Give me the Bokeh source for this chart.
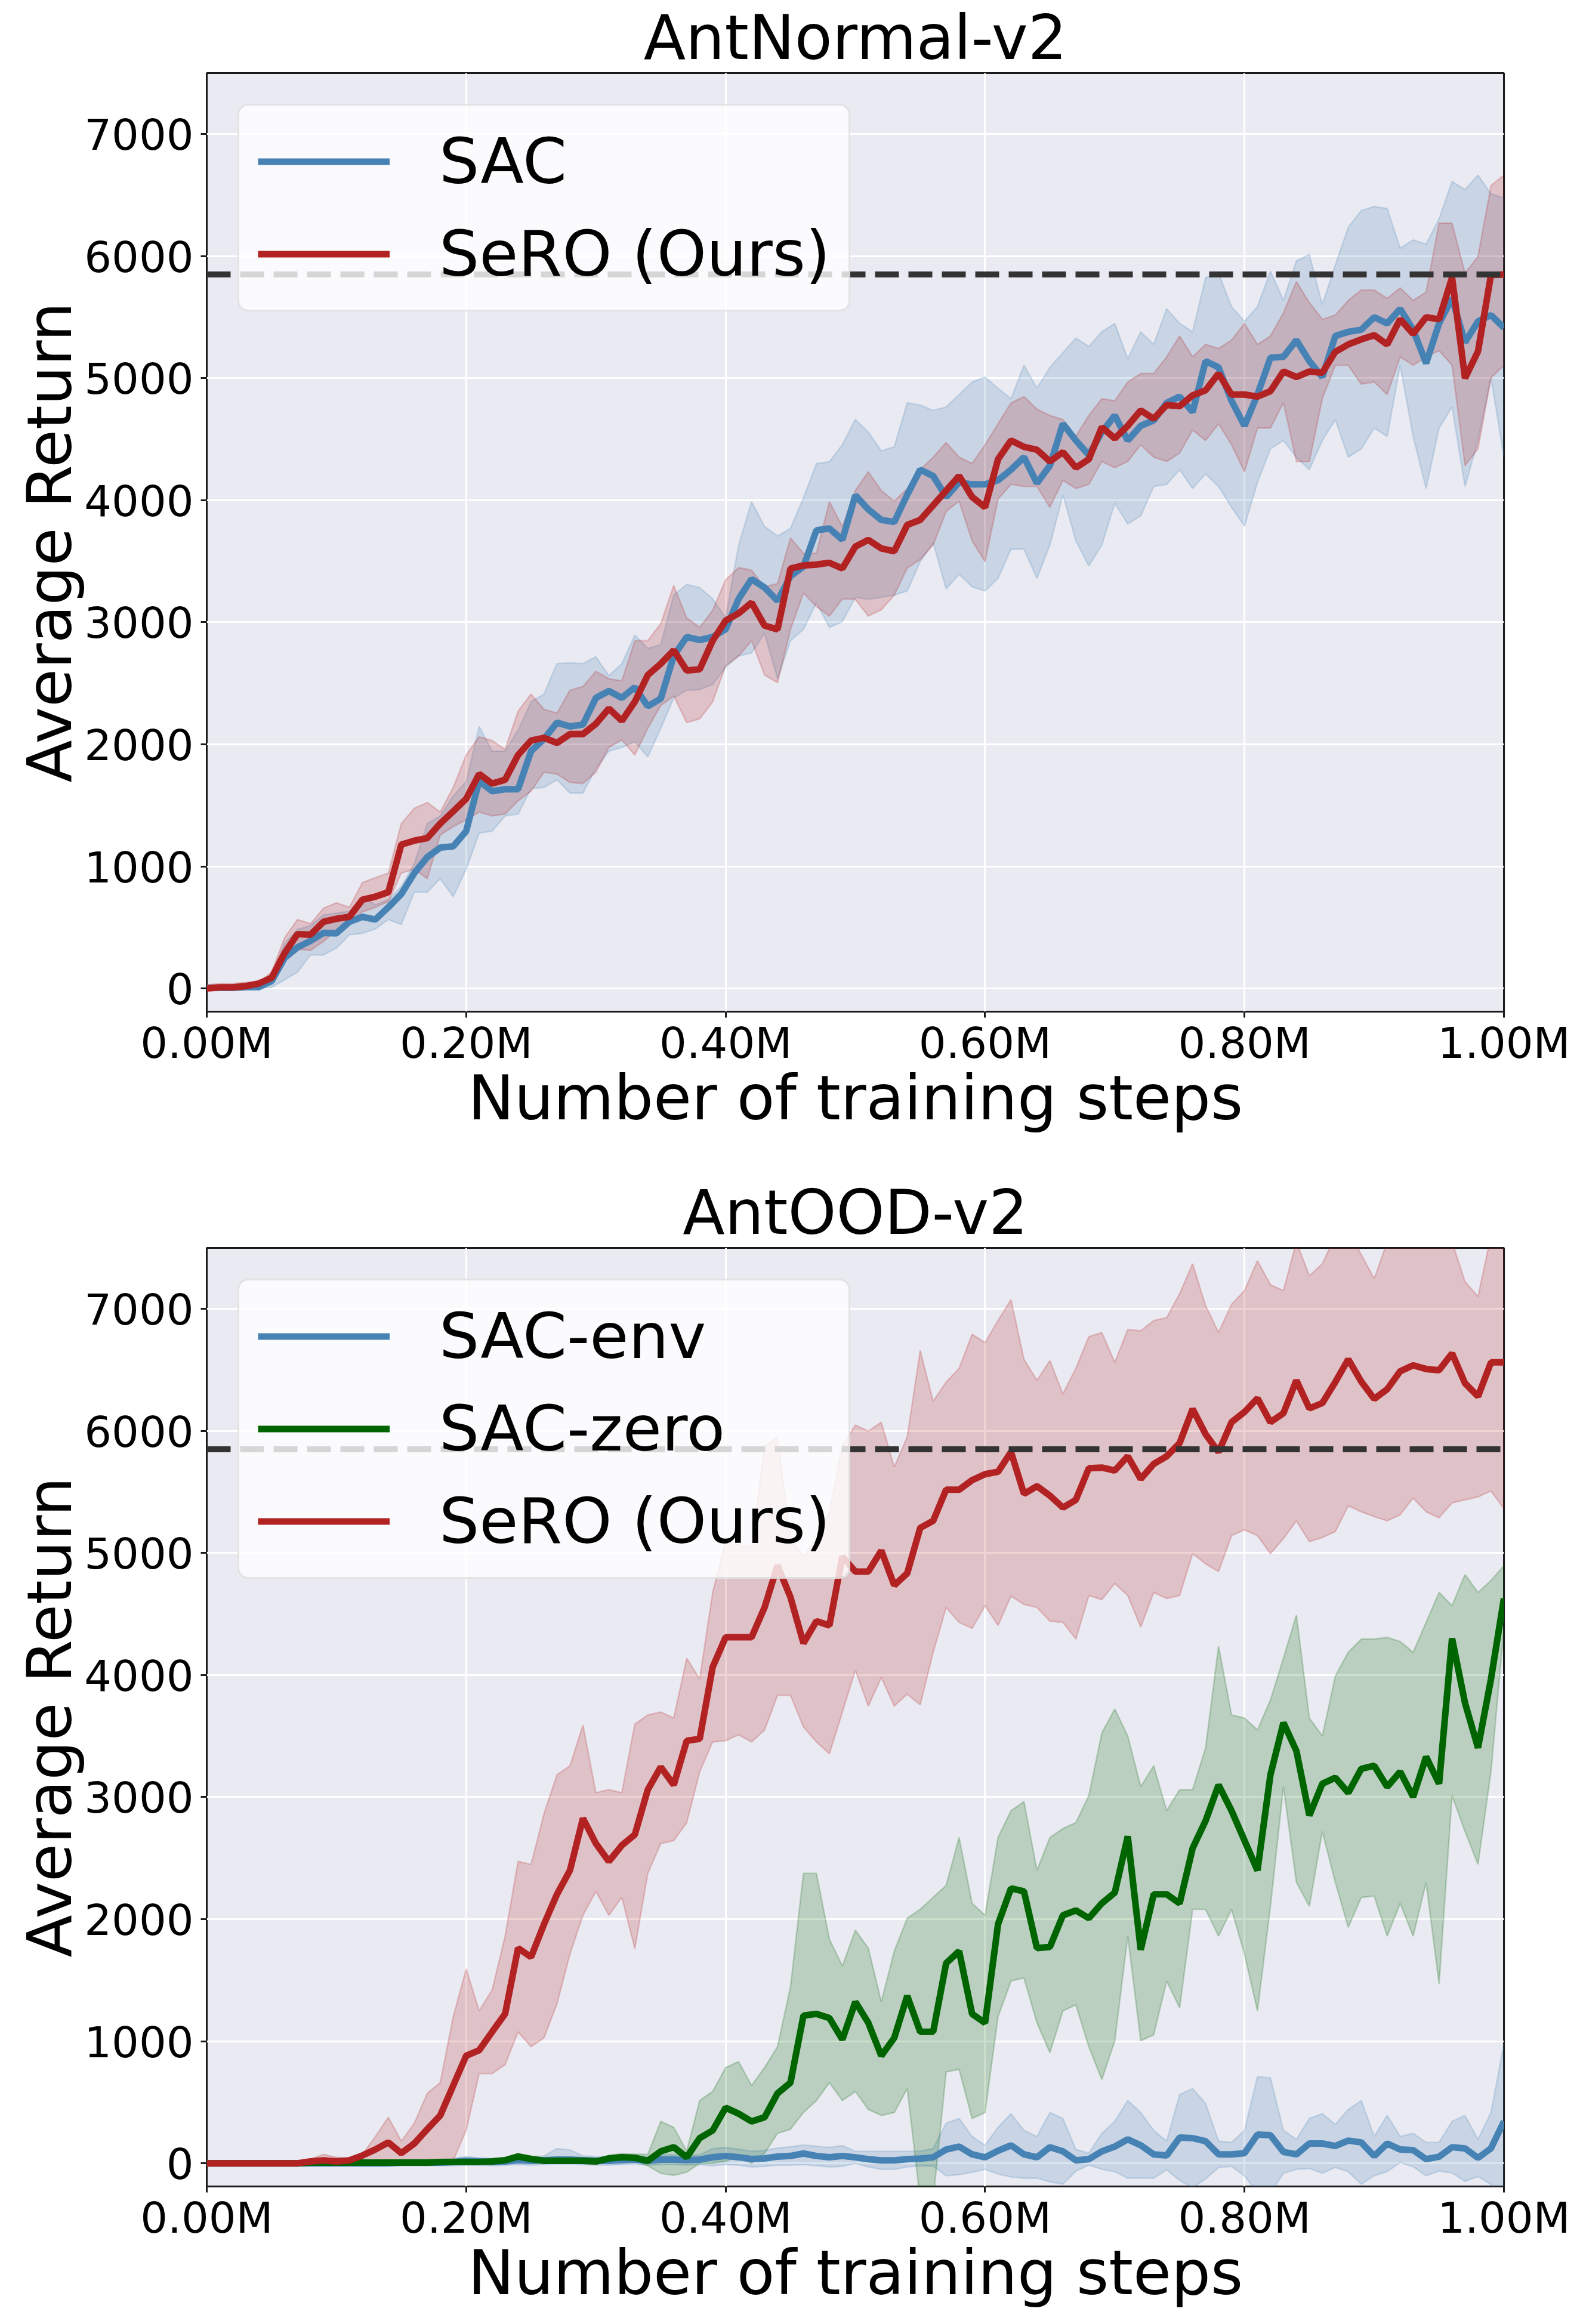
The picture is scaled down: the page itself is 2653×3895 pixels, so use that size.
from bokeh.plotting import figure
from bokeh.models import Range1d, FixedTicker, Span, Legend
from bokeh.layouts import column
from bokeh.embed import file_html
from bokeh.resources import INLINE

# ---------------- data ----------------
steps = [i * 10000 for i in range(101)]
x_ticks = [0, 200000, 400000, 600000, 800000, 1000000]
x_tick_labels = ["0.00M", "0.20M", "0.40M", "0.60M", "0.80M", "1.00M"]
y_ticks = [0, 1000, 2000, 3000, 4000, 5000, 6000, 7000]
reference_return = 5850

# AntNormal-v2
normal_sac = [5, 5, 5, 10, 10, 60, 250, 337, 390, 455, 452, 546, 587, 565, 665, 774, 945, 1076, 1154, 1164,
              1289, 1700, 1616, 1632, 1632, 1944, 2044, 2178, 2147, 2162, 2381, 2437, 2381, 2468, 2312, 2375,
              2724, 2880, 2855, 2880, 2942, 3192, 3354, 3285, 3176, 3379, 3457, 3754, 3769, 3676, 4040,
              3925, 3839, 3822, 4045, 4250, 4199, 4027, 4147, 4130, 4130, 4164, 4250, 4353, 4140, 4284, 4627,
              4490, 4370, 4558, 4695, 4490, 4610, 4654, 4798, 4849, 4723, 5140, 5089, 4815, 4610, 4866, 5168,
              5175, 5312, 5140, 5010, 5346, 5380, 5397, 5500, 5449, 5568, 5397, 5123, 5449, 5654, 5295, 5466,
              5517, 5414]
normal_sac_lo = [-10, -10, -10, -10, 0, 9, 72, 134, 275, 275, 331, 440, 452, 487, 565, 524, 789, 789, 899, 752,
                 977, 1273, 1289, 1413, 1429, 1638, 1647, 1710, 1601, 1601, 1803, 1944, 1975, 2022, 1897, 2131,
                 2381, 2443, 2449, 2490, 2630, 2724, 2749, 2911, 2537, 2849, 2942, 3161, 2958, 3005, 3205,
                 3188, 3205, 3222, 3257, 3497, 3651, 3274, 3394, 3291, 3257, 3360, 3599, 3599, 3360, 3634, 4045,
                 3668, 3462, 3634, 3976, 3805, 3873, 4113, 4130, 4250, 4096, 4216, 4113, 3942, 3788, 4147, 4421,
                 4490, 4353, 4250, 4490, 4661, 4353, 4421, 4592, 4524, 5106, 4524, 4096, 4592, 4764, 4113, 4490,
                 5003, 4353]
normal_sac_hi = [25, 25, 25, 25, 25, 103, 368, 484, 515, 602, 618, 633, 752, 686, 727, 836, 1023, 1351, 1413, 1576,
                 1694, 2147, 1944, 1944, 2115, 2349, 2412, 2661, 2668, 2661, 2718, 2562, 2661, 2895, 2786, 2817,
                 3223, 3310, 3285, 3192, 3036, 3629, 3988, 3785, 3707, 3769, 4019, 4300, 4315, 4456, 4661,
                 4558, 4404, 4438, 4798, 4781, 4736, 4764, 4866, 4969, 5010, 4918, 4832, 5106, 4918, 5089, 5209,
                 5329, 5260, 5380, 5449, 5158, 5380, 5277, 5568, 5449, 5380, 5825, 5860, 5586, 5466, 5586, 5877,
                 5637, 5962, 6013, 5603, 5928, 6236, 6373, 6407, 6390, 6065, 6133, 6099, 6305, 6613, 6545, 6664,
                 6510, 6476]
normal_sero = [0, 9, 9, 19, 40, 87, 290, 446, 440, 546, 571, 587, 727, 752, 789, 1179, 1211, 1232, 1351, 1451,
               1554, 1757, 1679, 1710, 1913, 2031, 2053, 2012, 2084, 2084, 2168, 2293, 2193, 2349, 2568, 2661,
               2771, 2605, 2615, 2849, 3014, 3073, 3161, 2973, 2942, 3441, 3466, 3473, 3488, 3441, 3620,
               3675, 3606, 3582, 3798, 3839, 3959, 4079, 4199, 4027, 3942, 4336, 4490, 4438, 4414, 4318, 4394,
               4267, 4336, 4599, 4507, 4610, 4736, 4668, 4781, 4771, 4860, 4901, 5038, 4866, 4866, 4849, 4894,
               5055, 5010, 5055, 5045, 5216, 5277, 5318, 5353, 5277, 5483, 5363, 5500, 5483, 5825, 5000, 5220,
               5845, 5850]
normal_sero_lo = [-20, -15, -15, -10, 9, 34, 228, 321, 312, 384, 477, 534, 627, 665, 711, 945, 977, 899, 1257, 1326,
                  1382, 1445, 1413, 1429, 1538, 1616, 1772, 1757, 1688, 1679, 1772, 1975, 2037, 1913, 2131, 2318,
                  2396, 2178, 2209, 2349, 2646, 2724, 2849, 2568, 2505, 2942, 3239, 3129, 3051, 3192, 3188,
                  3051, 3103, 3222, 3445, 3514, 3634, 3908, 3993, 3668, 3497, 4010, 4130, 4113, 4113, 3942, 4164,
                  4096, 4130, 4318, 4267, 4318, 4455, 4353, 4318, 4387, 4575, 4490, 4627, 4455, 4233, 4592, 4592,
                  4798, 4318, 4318, 4832, 5106, 5106, 4952, 4969, 4866, 5175, 5106, 5175, 5226, 5106, 4284, 4421,
                  5003, 5106]
normal_sero_hi = [30, 40, 40, 50, 47, 134, 415, 565, 530, 658, 702, 665, 867, 908, 945, 1351, 1476, 1523, 1445, 1647,
                  1913, 2062, 2031, 1959, 2271, 2412, 2287, 2256, 2443, 2474, 2599, 2537, 2521, 2849, 2849, 2989,
                  3301, 3036, 2958, 3098, 3348, 3448, 3426, 3292, 3317, 3691, 3566, 3566, 3988, 3785, 4079,
                  4233, 4079, 3993, 4096, 4250, 4353, 4473, 4353, 4301, 4455, 4627, 4798, 4849, 4747, 4695, 4661,
                  4524, 4695, 4832, 4815, 4969, 5038, 5038, 5175, 5346, 5175, 5277, 5243, 5312, 5449, 5277, 5346,
                  5534, 5791, 5620, 5483, 5517, 5637, 5723, 5723, 5654, 5740, 5637, 5706, 6270, 6270, 5860, 5997,
                  6579, 6664]

# AntOOD-v2
ood_env = [0, 0, 0, 0, 0, 0, 0, 0, 0, 0, 0, 0, 0, 0, 0, 5, 5, 5, 5, 10,
           20, 15, 10, 15, 25, 20, 25, 30, 30, 25, 20, 20, 25, 30, 20, 30, 30, 25, 30, 50,
           60, 50, 35, 40, 55, 60, 80, 60, 50, 60, 49,
           34, 24, 24, 34, 39, 49, 113, 137, 73, 49, 103, 147, 73, 49, 132, 98, 24, 34, 98, 137,
           196, 147, 73, 64, 211, 206, 181, 73, 73, 83, 235, 230, 93, 73, 162, 162, 142, 186, 171, 59,
           162, 113, 108, 34, 54, 132, 122, 44, 122, 343]
ood_env_lo = [-20, -20, -20, -20, -20, -20, -20, -20, -20, -20, -20, -20, -20, -20, -20, -20, -20, -20, -20, -20,
              -15, -15, -20, -15, -10, -15, -10, -5, -5, -10, -15, -15, -10, -5, -15, -10, -10, -15, -10, -20,
              -10, -15, -30, -25, -15, -15, -10, -20, -30, -25, 0,
              -30, -50, -50, -30, -20, -24, -102, -93, -74, -49, -88, -112, -123, -122, -152, -171, -65, -15, -49, -69,
              -122, -122, -123, -53, -141, -200, -128, -35, -25, -103, -240, -240, -83, -50, -43, -82, -34, -69, -172, -102,
              -68, 6, -29, -103, -63, -79, -148, -108, -172, -293]
ood_env_hi = [20, 20, 20, 20, 20, 20, 20, 20, 20, 20, 20, 20, 20, 20, 20, 30, 30, 30, 30, 40,
              55, 45, 40, 45, 60, 55, 60, 120, 110, 60, 55, 55, 60, 65, 55, 70, 70, 65, 70, 120,
              130, 115, 100, 105, 125, 135, 150, 140, 130, 145, 98,
              98, 98, 98, 98, 98, 122, 328, 367, 220, 147, 294, 406, 269, 220, 416, 367, 113, 83, 245, 343,
              514, 416, 269, 181, 563, 612, 490, 181, 171, 269, 710, 700, 269, 196, 367, 406, 318, 441, 514, 220,
              392, 220, 245, 171, 171, 343, 392, 196, 416, 979]
ood_zero = [0, 0, 0, 0, 0, 0, 0, 0, 5, 5, 5, 5, 5, 5, 5, 5, 5, 5, 10, 10,
            10, 10, 15, 25, 55, 35, 20, 20, 20, 20, 15, 40, 50, 45, 20, 98, 132, 49, 206, 269,
            455, 406, 343, 377, 573, 661, 1210, 1224, 1190, 1014, 1322,
            1151, 881, 1028, 1371, 1077, 1077, 1640, 1738, 1224, 1150, 1959, 2253, 2228, 1763, 1773, 2032,
            2072, 2008, 2130, 2218, 2679, 1750, 2204, 2204, 2130, 2581, 2806, 3100, 2889, 2644, 2400, 3183,
            3609, 3379, 2850, 3110, 3159, 3036, 3232, 3257, 3085, 3208, 3002, 3330, 3110, 4300, 3771, 3404,
            3967, 4628]
ood_zero_lo = [-5, -5, -5, -5, -5, -5, -5, -5, -5, -5, -5, -5, -5, -5, -5, -5, -5, -5, -5, -5,
               -5, -5, -5, 5, 30, 10, 0, 0, 0, 0, -5, 15, 20, 15, -20, -83, -98, -73, 0, 0,
               15, 64, 0, 83, 245, 279, 416, 514, 661, 514, 588,
               441, 392, 416, 612, -300, -300, 749, 769, 367, 416, 1200, 1494, 1518, 1151, 906, 1249,
               1298, 955, 686, 1004, 1861, 1004, 1053, 1494, 1273, 2081, 2081, 1861, 2081, 1714, 1249, 2106,
               3085, 2302, 2106, 2718, 2302, 1934, 2179, 2189, 1861, 2130, 1861, 2302, 1469, 3012, 2718, 2449,
               3208, 4383]
ood_zero_hi = [5, 5, 5, 5, 5, 5, 5, 5, 15, 15, 15, 15, 15, 15, 15, 15, 15, 15, 25, 25,
               25, 25, 35, 45, 80, 60, 40, 40, 40, 40, 35, 65, 80, 75, 73, 343, 294, 100, 514, 588,
               784, 833, 637, 784, 955, 1445, 2375, 2375, 1836, 1616, 1910,
               1763, 1322, 1738, 2008, 2081, 2179, 2277, 2669, 2130, 2032, 2669, 2889, 2963, 2400, 2669, 2742,
               2791, 3012, 3526, 3722, 3501, 3085, 3257, 2889, 3061, 3061, 3404, 4236, 3673, 3648, 3550, 3795,
               4138, 4491, 3648, 3501, 3991, 4187, 4295, 4295, 4309, 4275, 4187, 4432, 4677, 4569, 4824, 4677,
               4775, 4897]
ood_sero = [0, 0, 0, 0, 0, 0, 0, 0, 15, 24, 15, 24, 64, 113, 171, 83, 162, 279, 392, 637,
            881, 926, 1077, 1224, 1763, 1690, 1959, 2204, 2400, 2826, 2620, 2473, 2605, 2693, 3061, 3247,
            3100, 3462, 3477, 4065, 4310, 4310, 4310, 4554, 4897, 4638, 4261, 4442, 4407, 4971, 4848,
            4848, 5020, 4736, 4834, 5206, 5264, 5519, 5519, 5597, 5646, 5666, 5828, 5485, 5548, 5470, 5372,
            5436, 5695, 5700, 5676, 5793, 5607, 5730, 5793, 5901, 6180, 5974, 5828, 6072, 6156, 6268, 6072,
            6146, 6415, 6185, 6229, 6401, 6587, 6405, 6263, 6342, 6489, 6538, 6508, 6498, 6636, 6391, 6283,
            6562, 6562]
ood_sero_lo = [-10, -10, -10, -10, -10, -10, -10, -10, -5, -15, 0, 15, 24, 24, 15, 0, 24, 0, 0, 24,
               269, 735, 735, 808, 1077, 955, 1028, 1307, 1714, 2032, 2228, 2032, 2179, 1758, 2375, 2620,
               2644, 2791, 3208, 3452, 3462, 3511, 3452, 3550, 3834, 3834, 3575, 3452, 3355, 3697, 4040,
               3746, 3981, 3746, 3844, 3756, 4187, 4554, 4432, 4383, 4569, 4407, 4647, 4579, 4554, 4442, 4432,
               4295, 4652, 4618, 4750, 4652, 4393, 4677, 4628, 4652, 4995, 4912, 4848, 5142, 5191, 5142, 4995,
               5118, 5264, 5093, 5127, 5176, 5387, 5338, 5299, 5264, 5313, 5451, 5338, 5289, 5411, 5436, 5460,
               5509, 5362]
ood_sero_hi = [10, 10, 10, 10, 10, 10, 10, 10, 34, 73, 49, 40, 73, 220, 377, 181, 328, 573, 661, 1200,
               1592, 1249, 1420, 1861, 2473, 2449, 2865, 3183, 3257, 3590, 3036, 3061, 3036, 3599, 3673, 3697,
               3648, 4138, 3967, 4677, 5093, 5069, 5044, 5877, 5950, 5118, 4971, 5118, 5338, 5877, 6048,
               5999, 6072, 5705, 5950, 6660, 6244, 6401, 6513, 6792, 6724, 6905, 7076, 6587, 6415, 6577, 6303,
               6513, 6773, 6807, 6562, 6831, 6821, 6905, 6929, 7125, 7370, 7027, 6807, 7037, 7150, 7395, 7199,
               7150, 7550, 7272, 7370, 7600, 7650, 7444, 7248, 7550, 7600, 7700, 7650, 7600, 7550, 7223, 7101,
               7600, 7650]

BLUE = "#4682B4"
RED = "#B22222"
GREEN = "#006400"
FONT = "DejaVu Sans"


def make_panel(title, series, min_border_top, min_border_bottom):
    p = figure(output_backend="svg", toolbar_location=None,
               frame_width=2174, frame_height=1573,
               min_border_left=346, min_border_right=117,
               min_border_top=min_border_top, min_border_bottom=min_border_bottom,
               x_range=Range1d(0, 1000000), y_range=Range1d(-190, 7500),
               background_fill_color="#EAEAF2", border_fill_color="white")
    p.title.text = title
    p.title.text_font = FONT
    p.title.text_font_size = "103px"
    p.title.text_font_style = "normal"
    p.title.text_color = "black"
    p.title.align = "center"
    p.title.standoff = 0
    p.outline_line_color = "#1a1a1a"
    p.outline_line_width = 3

    for ax in (p.xaxis[0], p.yaxis[0]):
        ax.axis_line_color = None
        ax.major_tick_line_color = "#1a1a1a"
        ax.major_tick_line_width = 3
        ax.major_tick_out = 10
        ax.major_tick_in = 0
        ax.minor_tick_line_color = None
        ax.major_label_text_font = FONT
        ax.major_label_text_font_size = "72px"
        ax.major_label_text_color = "black"
        ax.axis_label_text_font = FONT
        ax.axis_label_text_font_size = "104px"
        ax.axis_label_text_font_style = "normal"
        ax.axis_label_text_color = "black"

    p.xaxis[0].ticker = FixedTicker(ticks=x_ticks)
    p.xaxis[0].major_label_overrides = {t: s for t, s in zip(x_ticks, x_tick_labels)}
    p.xaxis[0].axis_label = "Number of training steps"
    p.xaxis[0].major_label_standoff = 0
    p.xaxis[0].axis_label_standoff = -14
    p.yaxis[0].ticker = FixedTicker(ticks=y_ticks)
    p.yaxis[0].axis_label = "Average Return"
    p.yaxis[0].major_label_standoff = 12
    p.yaxis[0].axis_label_standoff = -6

    p.grid.grid_line_color = "white"
    p.grid.grid_line_width = 3
    p.xgrid[0].ticker = FixedTicker(ticks=x_ticks)
    p.ygrid[0].ticker = FixedTicker(ticks=y_ticks)

    for label, mean, lo, hi, color in series:
        p.varea(x=steps, y1=lo, y2=hi, fill_color=color, fill_alpha=0.2)
        p.line(steps, lo, line_color=color, line_alpha=0.22, line_width=2.5)
        p.line(steps, hi, line_color=color, line_alpha=0.22, line_width=2.5)
    for label, mean, lo, hi, color in series:
        p.line(steps, mean, line_color=color, line_width=11, legend_label=label)

    span = Span(location=reference_return, dimension="width", line_color="#333333",
                line_width=10, line_dash="40 16", level="glyph")
    p.add_layout(span)

    lg = p.legend[0]
    lg.location = "top_left"
    lg.margin = 52
    lg.padding = 31
    lg.spacing = 30
    lg.glyph_width = 221
    lg.glyph_height = 125
    lg.label_height = 125
    lg.label_standoff = 83
    lg.label_text_font = FONT
    lg.label_text_font_size = "106px"
    lg.label_text_color = "black"
    lg.background_fill_color = "white"
    lg.background_fill_alpha = 0.8
    lg.border_line_color = "#cccccc"
    lg.border_line_width = 3
    if "border_radius" in Legend.properties():
        lg.border_radius = 18
    return p


p1 = make_panel("AntNormal-v2",
                [("SAC", normal_sac, normal_sac_lo, normal_sac_hi, BLUE),
                 ("SeRO (Ours)", normal_sero, normal_sero_lo, normal_sero_hi, RED)],
                117, 262)
p2 = make_panel("AntOOD-v2",
                [("SAC-env", ood_env, ood_env_lo, ood_env_hi, BLUE),
                 ("SAC-zero", ood_zero, ood_zero_lo, ood_zero_hi, GREEN),
                 ("SeRO (Ours)", ood_sero, ood_sero_lo, ood_sero_hi, RED)],
                134, 221)

layout = column(p1, p2, spacing=0)
open("out.html", "w").write(file_html(layout, INLINE))
